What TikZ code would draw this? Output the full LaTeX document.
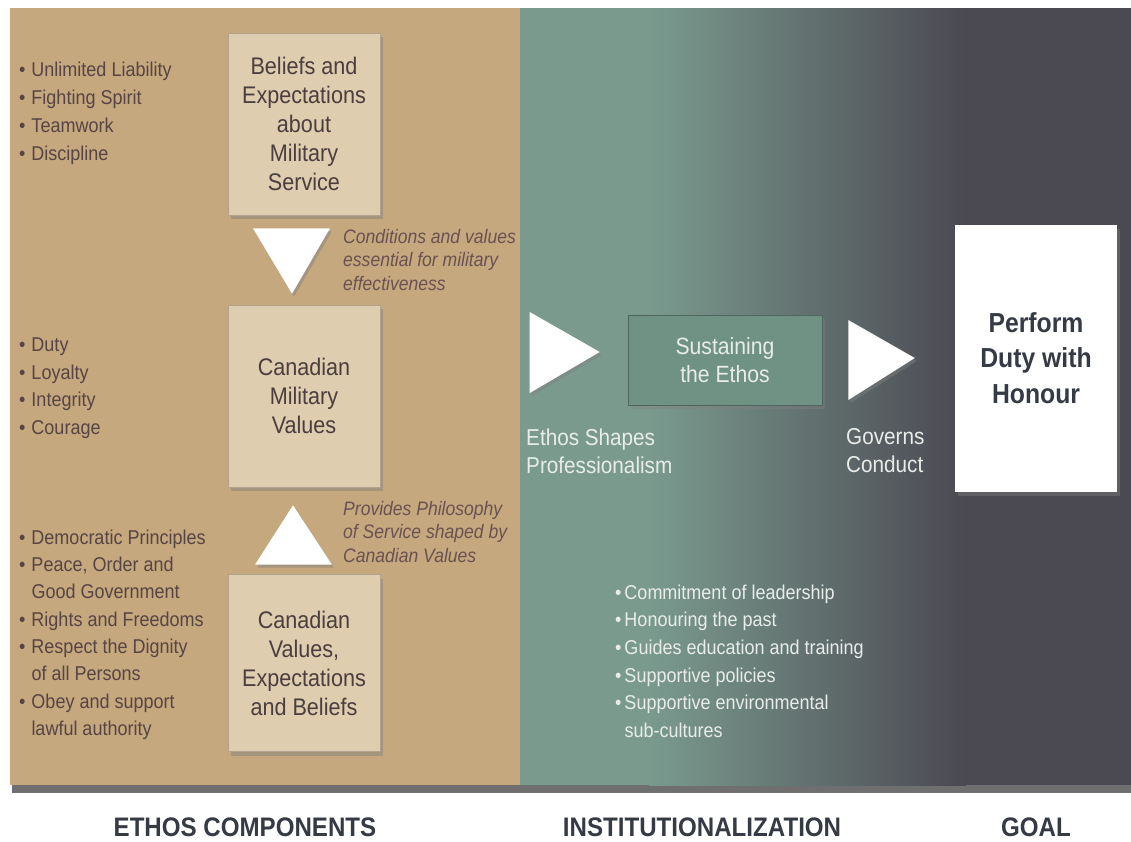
\documentclass[tikz,border=0pt]{standalone}
\usepackage{fontspec}
\setmainfont{Liberation Sans}[FakeStretch=0.9]
\usetikzlibrary{calc,shadows}
\definecolor{tanbg}{HTML}{C5A87D}
\definecolor{boxtan}{HTML}{DECDAF}
\definecolor{tealbg}{HTML}{7A9A8E}
\definecolor{darkbg}{HTML}{4B4952}
\definecolor{sustain}{HTML}{709285}
\definecolor{browntext}{HTML}{574444}
\definecolor{boxtext}{HTML}{4A3E3E}
\definecolor{captext}{HTML}{6A5252}
\definecolor{lighttext}{HTML}{E8EDE9}
\definecolor{labeltext}{HTML}{353A45}
\tikzset{
  tanbox/.style={draw=boxtan!80!black, line width=0.6pt, fill=boxtan, minimum width=152pt, inner sep=0pt, align=center,
    text=boxtext, font=\fontsize{24}{29}\selectfont,
    drop shadow={shadow xshift=3pt, shadow yshift=-4pt, opacity=0.45}},
  arrowtri/.style={fill=white, drop shadow={shadow xshift=2pt, shadow yshift=-3pt, opacity=0.45}},
  bullets/.style={anchor=north west, inner sep=0pt, align=left, text=browntext, font=\fontsize{20}{28}\selectfont},
  caption/.style={anchor=north west, inner sep=0pt, align=left, text=captext, font=\fontsize{19.5}{23.5}\selectfont\itshape},
  lightlabel/.style={anchor=north west, inner sep=0pt, align=left, text=lighttext, font=\fontsize{23}{28}\selectfont},
  footlabel/.style={inner sep=0pt, text=labeltext, font=\fontsize{26.8}{30}\selectfont\bfseries},
}
\newcommand{\bl}{\textbullet\hspace{6pt}}
\newcommand{\ind}{\phantom{\textbullet}\hspace{6pt}}
\begin{document}
\begin{tikzpicture}[x=1pt,y=-1pt]
\useasboundingbox (0,0) rectangle (1131,841);
\fill[white] (0,0) rectangle (1131,841);
% background bands
\fill[gray!60!black, opacity=0.8] (12,783) rectangle (1131,793);
\fill[tanbg] (10,8) rectangle (520,785);
\fill[tealbg] (520,8) rectangle (650,785);
\shade[left color=tealbg, right color=darkbg] (649,8) rectangle (966,785);
\fill[darkbg] (965,8) rectangle (1131,785);

% ethos component boxes
\node[tanbox, minimum height=182pt] (b1) at (304,124) {Beliefs and\\Expectations\\about\\Military\\Service};
\node[tanbox, minimum height=182pt] (b2) at (304,396) {Canadian\\Military\\Values};
\node[tanbox, minimum height=177pt] (b3) at (304,663) {Canadian\\Values,\\Expectations\\and Beliefs};

% triangles between boxes
\fill[arrowtri] ($(b1.south)+(-51,13)$) -- ($(b1.south)+(26,13)$) -- ($(b2.north)+(-12,-11)$) -- cycle;
\fill[arrowtri] ($(b2.south)+(-11,18)$) -- ($(b3.north)+(28,-9.5)$) -- ($(b3.north)+(-49,-9.5)$) -- cycle;

% captions
\node[caption] (c1) at (343,228.8) {Conditions and values\\essential for military\\effectiveness};
\node[caption] (c2) at (343,500.8) {Provides Philosophy\\of Service shaped by\\Canadian Values};

% bullet lists
\node[bullets] (l1) at (19,61.6) {\bl Unlimited Liability\\\bl Fighting Spirit\\\bl Teamwork\\\bl Discipline};
\node[bullets, font=\fontsize{20}{27.7}\selectfont] (l2) at (19,337.6) {\bl Duty\\\bl Loyalty\\\bl Integrity\\\bl Courage};
\node[bullets, font=\fontsize{20}{27.3}\selectfont] (l3) at (19,529.6) {\bl Democratic Principles\\\bl Peace, Order and\\\ind Good Government\\\bl Rights and Freedoms\\\bl Respect the Dignity\\\ind of all Persons\\\bl Obey and support\\\ind lawful authority};

% institutionalization
\node[draw=sustain!70!black, line width=0.6pt, fill=sustain, minimum width=194pt, minimum height=90pt, inner sep=0pt, align=center,
  text=lighttext, font=\fontsize{23.5}{28}\selectfont,
  drop shadow={shadow xshift=3pt, shadow yshift=-4pt, opacity=0.4}] (s) at (725,360) {Sustaining\\the Ethos};
\node[fill=white, minimum width=162pt, minimum height=267pt, inner sep=0pt, align=center,
  text=labeltext, font=\fontsize{27.5}{35.5}\selectfont\bfseries,
  drop shadow={shadow xshift=3pt, shadow yshift=-4pt, opacity=0.4}] (p) at (1036,358) {Perform\\Duty with\\Honour};

\fill[arrowtri] ($(s.west)+(-98,-48)$) -- ($(s.west)+(-28,-8)$) -- ($(s.west)+(-98,33)$) -- cycle;
\fill[arrowtri] ($(s.east)+(26,-40)$) -- ($(p.west)+(-40,0)$) -- ($(s.east)+(26,40)$) -- cycle;

\node[lightlabel] (t1) at (526,428.5) {Ethos Shapes\\Professionalism};
\node[lightlabel] (t2) at (846,428.5) {Governs\\Conduct};

\node[bullets, text=lighttext, font=\fontsize{20}{27.6}\selectfont] (l4) at (615,584.6) {\textbullet\hspace{3pt}Commitment of leadership\\\textbullet\hspace{3pt}Honouring the past\\\textbullet\hspace{3pt}Guides education and training\\\textbullet\hspace{3pt}Supportive policies\\\textbullet\hspace{3pt}Supportive environmental\\\phantom{\textbullet}\hspace{3pt}sub-cultures};

% footer labels
\node[footlabel] (f1) at (245,827) {ETHOS COMPONENTS};
\node[footlabel] (f2) at (702,827) {INSTITUTIONALIZATION};
\node[footlabel] (f3) at (1036,827) {GOAL};
\end{tikzpicture}
\end{document}
